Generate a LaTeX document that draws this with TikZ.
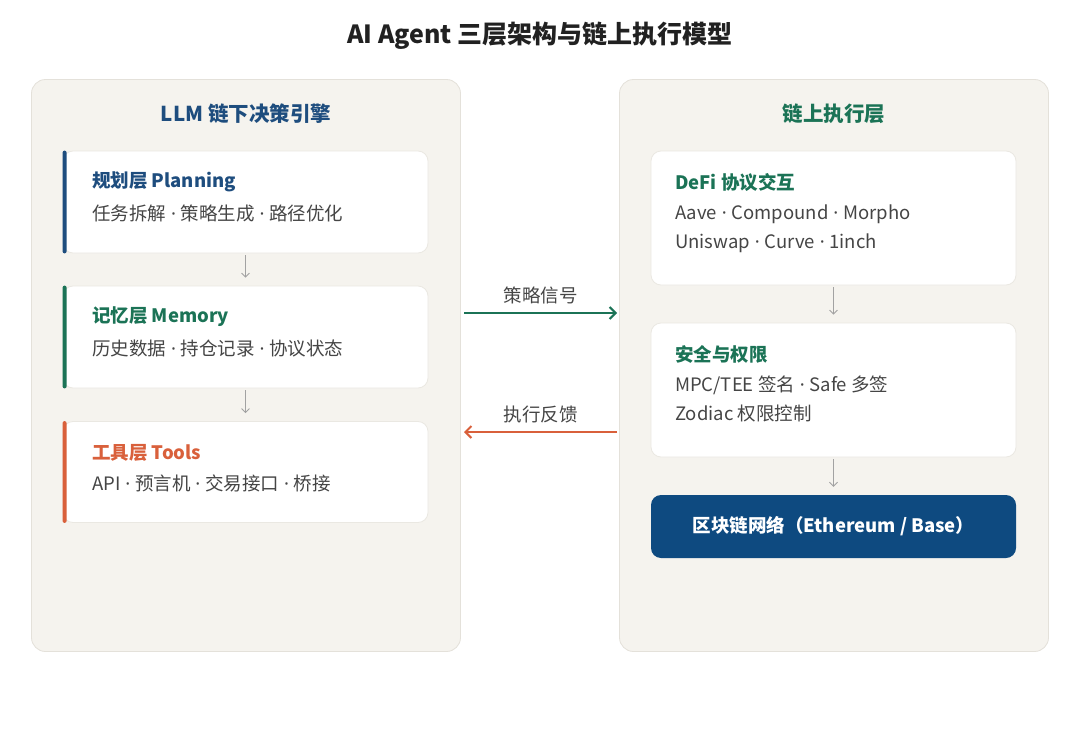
\documentclass[tikz,border=0pt]{standalone}
\usepackage{fontspec}
\setmainfont{Noto Sans CJK SC}
\newfontfamily\dotfont{Noto Sans}
\newcommand\mdot{{\dotfont\ ·\ }}
\usepackage{tikz}
\usetikzlibrary{
	arrows.meta,
	positioning}

\definecolor{panelbg}{HTML}{F5F3EE}
\definecolor{panelline}{HTML}{E4E1DA}
\definecolor{cardline}{HTML}{EAE8E2}
\definecolor{llmblue}{HTML}{1E4D7E}
\definecolor{chainblue}{HTML}{0E4A80}
\definecolor{layergreen}{HTML}{1B7356}
\definecolor{layerorange}{HTML}{D9603B}
\definecolor{subgray}{HTML}{454545}
\definecolor{linkgray}{HTML}{A2A2A2}

\begin{document}
\begin{tikzpicture}[x=1pt,y=-1pt,every text node part/.style={align=left},
  panel/.style={draw=panelline,fill=panelbg,rounded corners=14pt,line width=0.8pt,minimum width=429pt,minimum height=572pt,inner sep=0pt},
  card/.style={draw=cardline,fill=white,rounded corners=10pt,line width=0.8pt,minimum width=365pt,inner sep=0pt},
  ptitle/.style={font=\fontsize{20.5}{24}\selectfont\bfseries},
  ctitle/.style={anchor=west,inner sep=0pt,font=\fontsize{18.5}{22}\selectfont\bfseries},
  csub/.style={anchor=west,inner sep=0pt,text=subgray,font=\fontsize{18.5}{22}\selectfont},
  link/.style={draw=linkgray,line width=0.8pt,-{Straight Barb[length=4pt,width=8pt]},shorten <=2pt,shorten >=8pt},
  flow/.style={line width=2pt,-{Straight Barb[length=6pt,width=12pt]}}]
  \useasboundingbox[fill=white] (0,0) rectangle (1080,747);

  % Title
  \node[font=\fontsize{25}{30}\selectfont\bfseries,text=black!87] (title) at (540,36) {AI Agent 三层架构与链上执行模型};

  % Off-chain decision engine
  \node[panel] (llm) at (246,365.5) {};
  \node[ptitle,text=llmblue] (llmT) at (246,114) {LLM 链下决策引擎};

  \node[card,minimum height=102pt] (plan) at (245.5,202) {};
  \fill[llmblue,rounded corners=2pt] (plan.north west) rectangle ([xshift=4pt]plan.south west);
  \node[ctitle,text=llmblue] (planT) at (92,182) {规划层 Planning};
  \node[csub] (planS) at (92,213) {任务拆解\mdot 策略生成\mdot 路径优化};

  \node[card,minimum height=102pt] (mem) at (245.5,337) {};
  \fill[layergreen,rounded corners=2pt] (mem.north west) rectangle ([xshift=4pt]mem.south west);
  \node[ctitle,text=layergreen] (memT) at (92,317) {记忆层 Memory};
  \node[csub] (memS) at (92,348) {历史数据\mdot 持仓记录\mdot 协议状态};

  \node[card,minimum height=101pt] (tool) at (245.5,472) {};
  \fill[layerorange,rounded corners=2pt] (tool.north west) rectangle ([xshift=4pt]tool.south west);
  \node[ctitle,text=layerorange] (toolT) at (92,453) {工具层 Tools};
  \node[csub] (toolS) at (92,483) {API\mdot 预言机\mdot 交易接口\mdot 桥接};

  \draw [link] (plan) to (mem);
  \draw [link] (mem)  to (tool);

  % On-chain execution layer
  \node[panel] (chain) at (834,365.5) {};
  \node[ptitle,text=layergreen] (chainT) at (834,114) {链上执行层};

  \node[card,minimum height=134pt] (defi) at (833.5,218) {};
  \node[ctitle,text=layergreen] (defiT) at (675,182) {DeFi 协议交互};
  \node[csub] (defiS) at (675,214) {Aave\mdot Compound\mdot Morpho};
  \node[csub] (defiS2) at (675,243) {Uniswap\mdot Curve\mdot 1inch};

  \node[card,minimum height=134pt] (safe) at (833.5,390) {};
  \node[ctitle,text=layergreen] (safeT) at (675,354) {安全与权限};
  \node[csub] (safeS) at (675,385) {MPC/TEE 签名\mdot Safe 多签};
  \node[csub] (safeS2) at (675,414) {Zodiac 权限控制};

  \node[fill=chainblue,rounded corners=10pt,minimum width=365pt,minimum height=63pt,inner sep=0pt,
    text=white,font=\fontsize{18.5}{22}\selectfont\bfseries] (net) at (833.5,526.5) {区块链网络（Ethereum / Base）};

  \draw [link] (defi) to (safe);
  \draw [link] (safe) to (net);

  % Signals between layers
  \coordinate (sigA) at (464,313);
  \coordinate (sigB) at (617,313);
  \coordinate (fbA)  at (617,432);
  \coordinate (fbB)  at (464,432);
  \draw [flow,layergreen]  (sigA) to node[above=5pt,text=subgray,font=\fontsize{18.5}{22}\selectfont] (sigL) {策略信号} (sigB);
  \draw [flow,layerorange] (fbA)  to node[above=5pt,text=subgray,font=\fontsize{18.5}{22}\selectfont] (fbL) {执行反馈} (fbB);
\end{tikzpicture}
\end{document}
